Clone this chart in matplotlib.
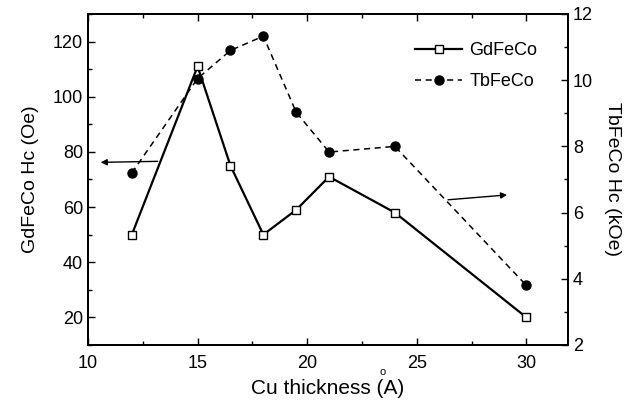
import matplotlib
matplotlib.use("Agg")
import matplotlib.pyplot as plt
from matplotlib.ticker import MultipleLocator

plt.rcParams['font.family'] = ['Liberation Sans', 'DejaVu Sans']

thickness = [12, 15, 16.5, 18, 19.5, 21, 24, 30]
gdfeco_hc = [50, 111, 75, 50, 59, 71, 58, 20]
tbfeco_hc = [7.2, 10.05, 10.9, 11.33, 9.03, 7.83, 8.0, 3.8]

fig = plt.figure(figsize=(6.4, 4.09), dpi=100)
ax = fig.add_axes([0.1375, 0.1565, 0.75, 0.8093])
ax2 = ax.twinx()

l1, = ax.plot(thickness, gdfeco_hc, '-', color='black', lw=1.6, marker='s',
              markersize=6.2, markerfacecolor='white', markeredgecolor='black',
              markeredgewidth=1.0, label='GdFeCo', zorder=3)
l2, = ax2.plot(thickness, tbfeco_hc, '--', color='black', lw=1.1, marker='o',
               markersize=6.5, markerfacecolor='black', markeredgecolor='black',
               dashes=(4, 3), label='TbFeCo', zorder=3)

ax.set_xlim(10, 31.9)
ax.set_ylim(10, 130)
ax2.set_ylim(2, 12)

ax.xaxis.set_major_locator(MultipleLocator(5))
ax.xaxis.set_minor_locator(MultipleLocator(2.5))
ax.yaxis.set_major_locator(MultipleLocator(20))
ax.yaxis.set_minor_locator(MultipleLocator(10))
ax2.yaxis.set_major_locator(MultipleLocator(2))
ax2.yaxis.set_minor_locator(MultipleLocator(1))

ax.tick_params(axis='x', which='both', direction='in', top=True, labelsize=13, pad=7)
ax.tick_params(axis='y', which='both', direction='in', right=False, labelsize=13)
ax.tick_params(which='major', length=5, width=1)
ax.tick_params(which='minor', length=3, width=1)
ax2.tick_params(axis='y', which='both', direction='in', labelsize=13)
ax2.tick_params(which='major', length=5, width=1)
ax2.tick_params(which='minor', length=3, width=1)

for a in (ax, ax2):
    for s in a.spines.values():
        s.set_linewidth(1.3)

ax.set_xlabel('Cu thickness (A)', fontsize=15, labelpad=5)
ax.set_ylabel('GdFeCo Hc (Oe)', fontsize=14, labelpad=10)
ax2.set_ylabel('TbFeCo Hc (kOe)', fontsize=14, rotation=270, labelpad=20)

fig.text(383 / 640, 1 - 372 / 409, 'o', fontsize=8, ha='center', va='center')

# arrows indicating axes
ax.annotate('', xy=(10.45, 76.2), xytext=(13.3, 76.6),
            arrowprops=dict(arrowstyle='-|>', color='black', lw=1.0,
                            mutation_scale=9))
ax2.annotate('', xy=(29.25, 6.54), xytext=(26.3, 6.38),
             arrowprops=dict(arrowstyle='-|>', color='black', lw=1.0,
                             mutation_scale=9))

ax.legend(handles=[l1, l2], loc='upper right', frameon=False, fontsize=13,
          bbox_to_anchor=(0.97, 0.965), handlelength=2.6, handletextpad=0.4,
          labelspacing=0.8)

fig.savefig('out.png', dpi=100)
